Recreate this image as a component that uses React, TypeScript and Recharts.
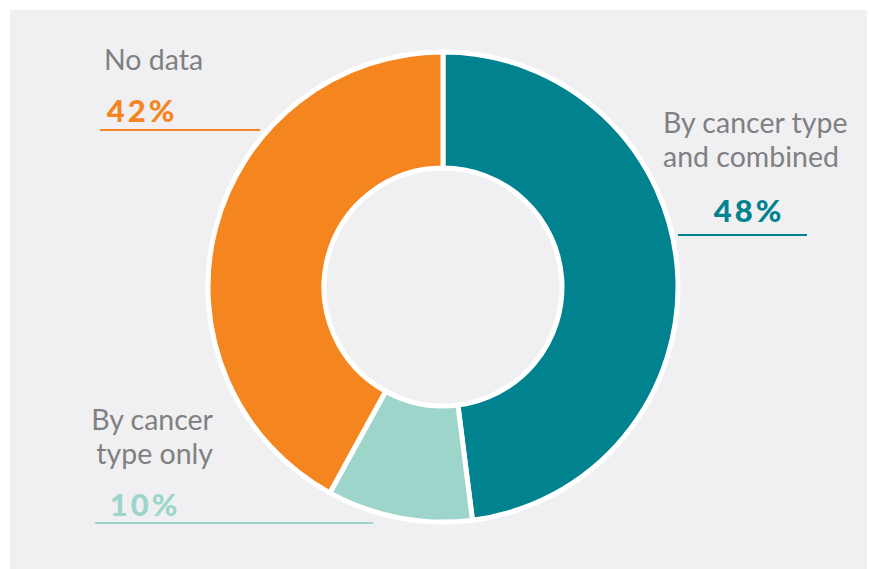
import { PieChart, Pie, Cell } from 'recharts'

const NAMES = ['By cancer type and combined', 'By cancer type only', 'No data']
const VALUES = [48, 10, 42]
const LABEL_LINES = [['By cancer type', 'and combined'], ['By cancer', 'type only'], ['No data']]

const COLORS = ['#00838f', '#9dd5cb', '#f5851f']
const TEXT_GRAY = '#808083'
const FONT = 'Lato, "Open Sans", sans-serif'

const data = NAMES.map((name, i) => ({ name, value: VALUES[i] }))

// where each label block sits, relative to the pie centre
const LABEL_LAYOUT = [
  { x: 220, y: -154, anchor: 'start', pctX: 306, pctY: -65, lineX1: 235, lineX2: 364, lineY: -52 },
  { x: -230, y: 143, anchor: 'end', pctX: -298, pctY: 229, lineX1: -348, lineX2: -70, lineY: 236 },
  { x: -339, y: -217, anchor: 'start', pctX: -301, pctY: -165, lineX1: -343, lineX2: -183, lineY: -157 },
]

function renderLabel(props: any) {
  const { cx, cy, index } = props
  const l = LABEL_LAYOUT[index]
  const lines = LABEL_LINES[index]
  return (
    <g key={`lbl-${index}`}>
      {lines.map((t, j) => (
        <text
          key={j}
          x={cx + l.x}
          y={cy + l.y + j * 34}
          textAnchor={l.anchor}
          fill={TEXT_GRAY}
          fontSize={28.5}
          fontFamily={FONT}
        >
          {t}
        </text>
      ))}
      <text
        x={cx + l.pctX}
        y={cy + l.pctY}
        textAnchor="middle"
        fill={COLORS[index]}
        fontSize={31}
        fontWeight={900}
        letterSpacing={3}
        fontFamily={FONT}
      >
        {`${VALUES[index]}%`}
      </text>
      <line
        x1={cx + l.lineX1}
        x2={cx + l.lineX2}
        y1={cy + l.lineY}
        y2={cy + l.lineY}
        stroke={COLORS[index]}
        strokeWidth={2}
      />
    </g>
  )
}

export default function App() {
  return (
    <div style={{ position: 'absolute', left: 0, top: 0, width: 869, height: 569, background: '#ffffff' }}>
      <div style={{ position: 'absolute', left: 10, top: 10, width: 857, height: 559, background: '#f0f0f2' }} />
      <div style={{ position: 'absolute', left: 0, top: 0 }}>
        <PieChart width={869} height={569} margin={{ top: 0, right: 0, bottom: 0, left: 0 }}>
          <Pie
            data={data}
            dataKey="value"
            nameKey="name"
            cx={443}
            cy={287}
            innerRadius={119}
            outerRadius={235}
            startAngle={90}
            endAngle={-270}
            stroke="#ffffff"
            strokeWidth={5}
            label={renderLabel}
            labelLine={false}
            isAnimationActive={false}
          >
            {data.map((d, i) => (
              <Cell key={d.name} fill={COLORS[i]} />
            ))}
          </Pie>
        </PieChart>
      </div>
    </div>
  )
}
